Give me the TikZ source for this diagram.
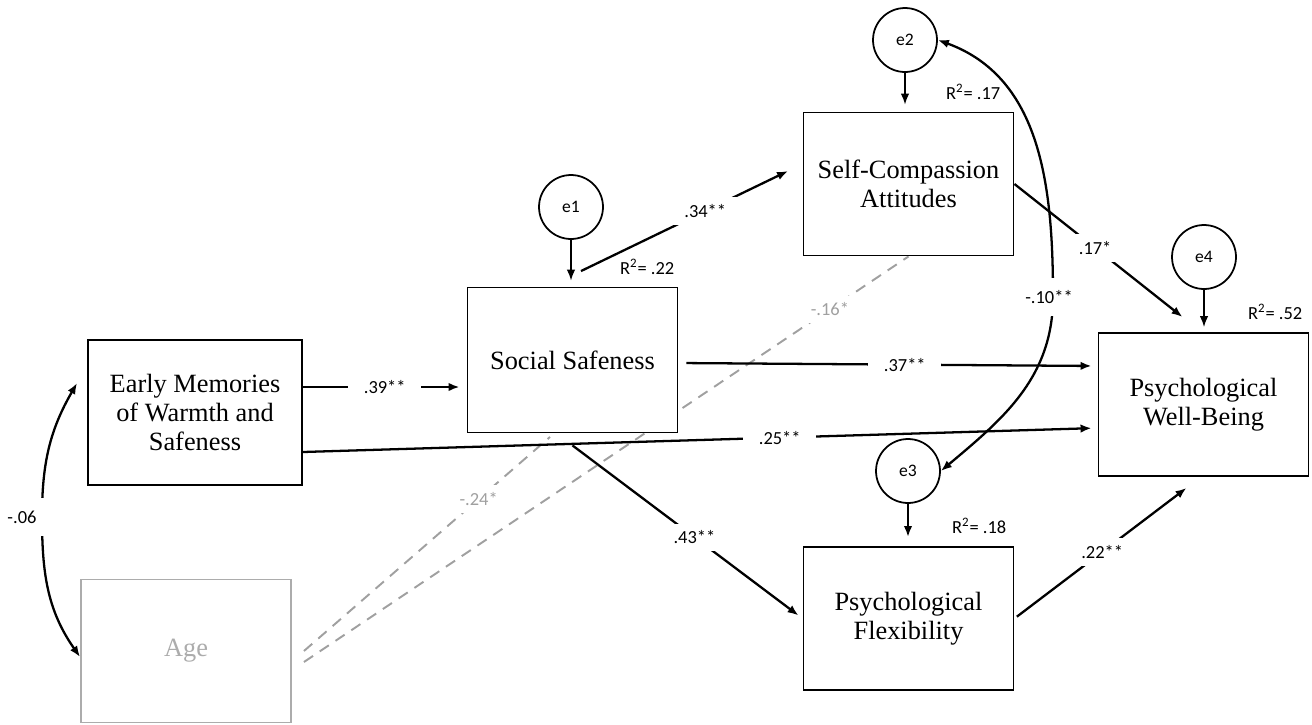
\documentclass[tikz,border=0pt]{standalone}
\usepackage{fontspec}
\setmainfont{Carlito}
\newfontfamily\boxfont{Liberation Serif}
\usetikzlibrary{arrows.meta, backgrounds}

\definecolor{agegray}{RGB}{172,172,172}
\definecolor{dashgray}{RGB}{160,160,160}

\begin{document}
\begin{tikzpicture}[x = 0.02cm, y = -0.02cm,
  >={Latex[length = 2.2mm, width = 1.7mm]},
  var/.style = {draw, fill = white, line width = 1.1pt, minimum width = 4.2cm, minimum height = 2.86cm, align = center, font = \boxfont\fontsize{15}{16.5}\selectfont},
  err/.style = {draw, circle, line width = 1pt, minimum size = 1.28cm, inner sep = 0pt, font = \fontsize{10}{12}\selectfont},
  eff/.style = {line width = 1.3pt, ->},
  errpath/.style = {line width = 0.8pt, ->},
  ctrl/.style = {dashgray, line width = 1.1pt, dash pattern = on 0.22cm off 0.16cm},
  coef/.style = {fill = white, inner xsep = 9pt, inner ysep = 4pt, font = \fontsize{10.5}{12}\selectfont},
  rsq/.style = {anchor = south east, inner sep = 1pt, font = \fontsize{10.5}{12}\selectfont}
]
\useasboundingbox (0,0) rectangle (1312,724);

\node[var, minimum width = 4.28cm, minimum height = 2.9cm] (early) at (195,412.5) {Early Memories\\of Warmth and\\Safeness};
\node[var, draw = agegray, text = agegray] (age) at (186,651) {Age};
\node[var, minimum height = 2.9cm] (ss) at (572.5,360) {Social Safeness};
\node[var] (sc) at (908.5,184) {Self-Compassion\\Attitudes};
\node[var] (pwb) at (1203.5,404.5) {Psychological\\Well-Being};
\node[var] (pf) at (908.5,618.5) {Psychological\\Flexibility};

\node[err] (e1) at (571,207) {e1};
\node[err] (e2) at (905,40) {e2};
\node[err] (e3) at (908,471) {e3};
\node[err] (e4) at (1204,257) {e4};

\draw[errpath, shorten >= 0.12cm] (e1) -- (e1 |- ss.north);
\draw[errpath, shorten >= 0.14cm] (e2) -- (e2 |- sc.north);
\draw[eff, shorten >= 0.18cm] (e3) -- (e3 |- pf.north);
\draw[errpath, shorten >= 0.1cm] (e4) -- (e4 |- pwb.north);

\node[rsq] (r2ss) at ([xshift = -0.04cm, yshift = 0.2cm]ss.north east) {R\textsuperscript{2}= .22};
\node[rsq] (r2sc) at ([xshift = -0.24cm, yshift = 0.2cm]sc.north east) {R\textsuperscript{2}= .17};
\node[rsq] (r2pwb) at ([xshift = -0.1cm, yshift = 0.2cm]pwb.north east) {R\textsuperscript{2}= .52};
\node[rsq] (r2pf) at ([xshift = -0.12cm, yshift = 0.2cm]pf.north east) {R\textsuperscript{2}= .18};

\begin{pgfonlayer}{background}
\draw[ctrl] ([xshift = 0.24cm]age.east) -- ([xshift = -0.45cm, yshift = -0.07cm]ss.south) node[coef, text = dashgray, pos = 0.71] {-.24*};
\draw[ctrl] ([xshift = 0.24cm, yshift = -0.22cm]age.east) -- (sc.south) node[coef, text = dashgray, pos = 0.87] {-.16*};
\end{pgfonlayer}

\draw[eff, shorten >= 0.14cm] (early.east |- 0,387) -- (ss.west |- 0,387) node[coef, midway] {.39**};
\draw[eff] ([xshift = 0.17cm, yshift = 0.31cm]ss.north) -- ([xshift = -0.29cm, yshift = 0.26cm]sc.west) node[coef, pos = 0.6] {.34**};
\draw[eff, shorten <= 0.16cm, shorten >= 0.12cm] (ss.east |- 0,363) -- (pwb.west |- 0,366) node[coef, pos = 0.54] {.37**};
\draw[eff, shorten >= 0.12cm] (early.east |- 0,452) -- (pwb.west |- 0,428) node[coef, pos = 0.6] {.25**};
\draw[eff] (sc.east) -- ([xshift = -0.42cm, yshift = 0.3cm]pwb.north) node[coef, pos = 0.48] {.17*};
\draw[eff, shorten >= 0.1cm] ([yshift = -0.24cm]ss.south) -- (pf.west) node[coef, pos = 0.53] {.43**};
\draw[eff, shorten <= 0.06cm] (pf.east) -- ([xshift = -0.34cm, yshift = -0.22cm]pwb.south) node[coef, pos = 0.51] {.22**};

\draw[eff, <->] ([xshift = -0.2cm, yshift = 0.59cm]early.west) to[out = -120, in = 90] (42,517) to[out = -90, in = 125] ([yshift = -0.12cm]age.west);
\node[coef, inner xsep = 4pt, inner ysep = 7pt] (cov1) at (22,517) {-.06};

\draw[eff, <->] (e2.east) to[out = -20, in = 90] (1053,297) to[out = -90, in = 40] (e3.east);
\node[coef, inner xsep = 2pt, inner ysep = 7pt] (cov2) at (1049,297) {-.10**};
\end{tikzpicture}
\end{document}
